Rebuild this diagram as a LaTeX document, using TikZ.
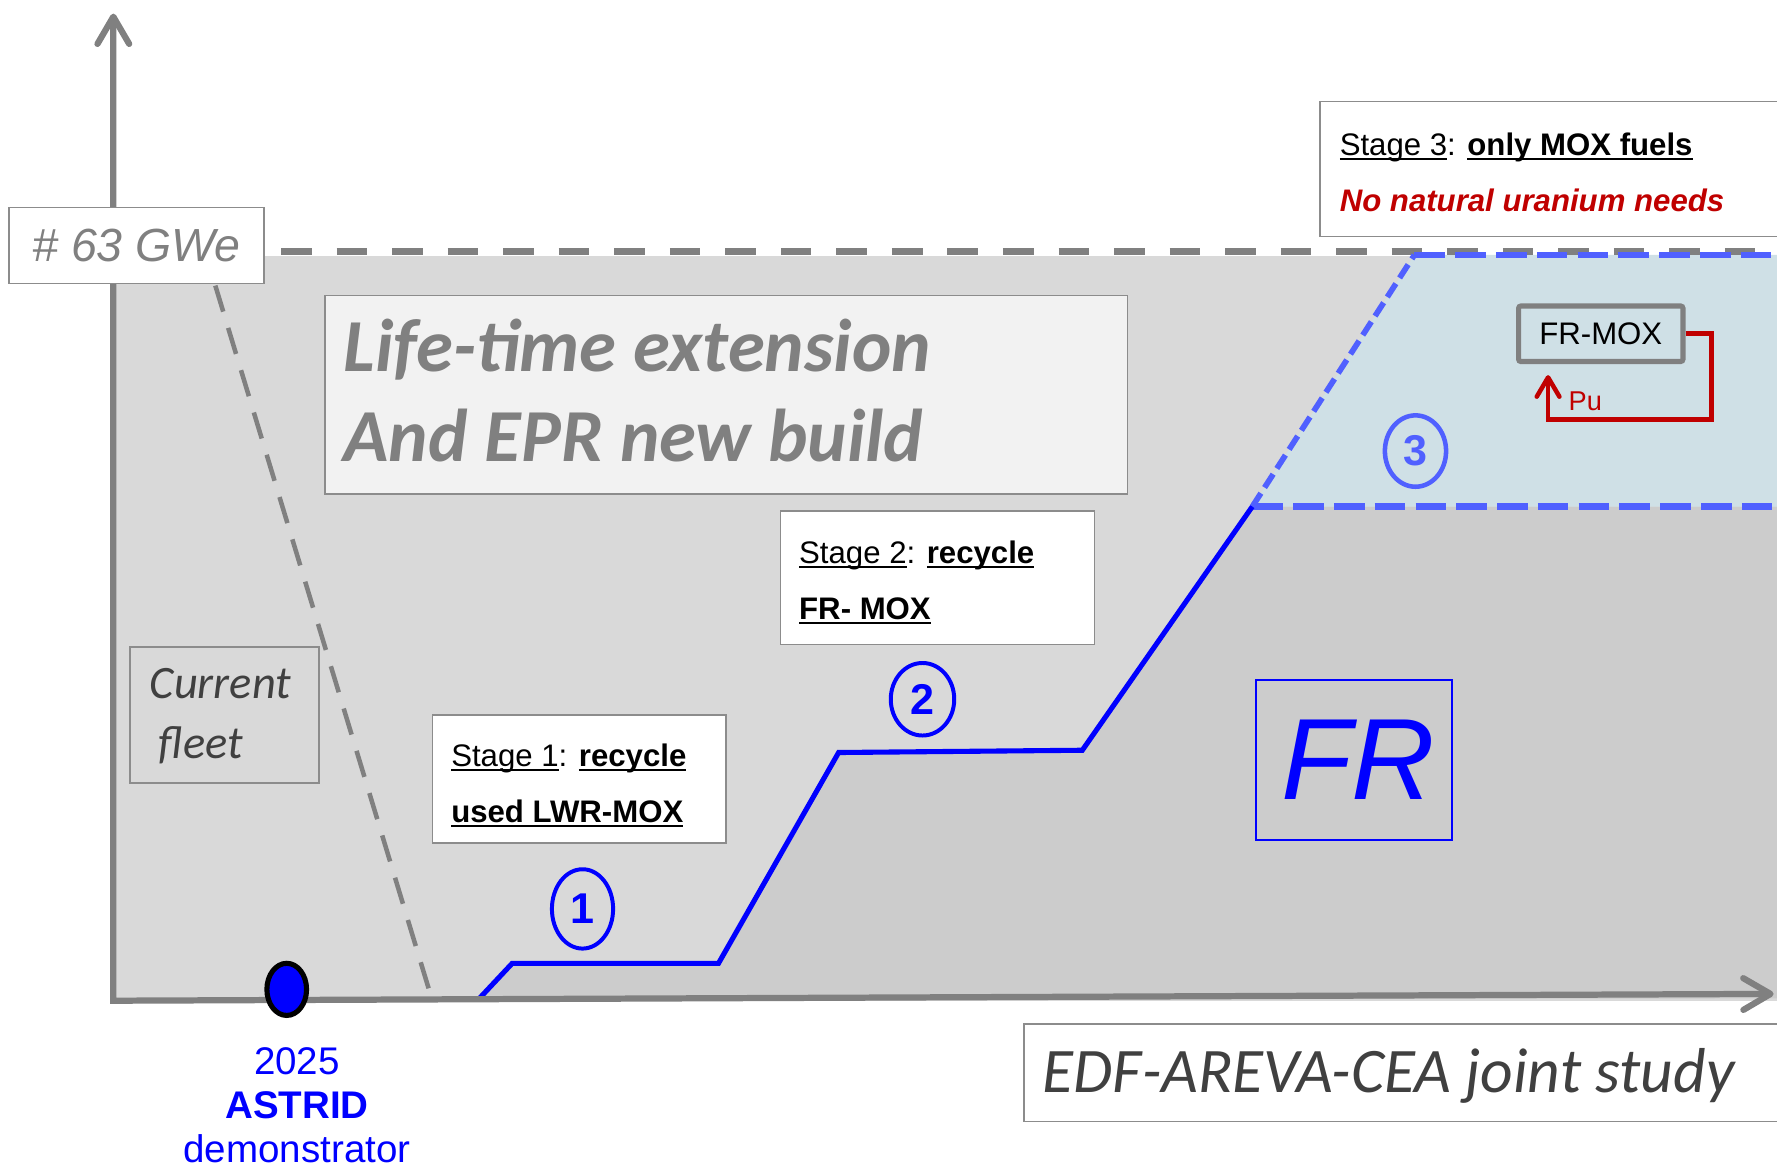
\documentclass[tikz,border=0pt]{standalone}
\usepackage{fontspec}
\setmainfont{Liberation Sans}
\newfontfamily\calfont{Carlito}
\usetikzlibrary{arrows.meta,shapes.geometric,positioning}

\definecolor{axisgray}{HTML}{808080}
\definecolor{edgegray}{HTML}{8C8C8C}
\definecolor{fleetgray}{HTML}{D9D9D9}
\definecolor{frgray}{HTML}{CCCCCC}
\definecolor{extgray}{HTML}{F2F2F2}
\definecolor{mixblue}{RGB}{207,224,230}
\definecolor{dashblue}{RGB}{80,96,255}
\definecolor{pured}{HTML}{C00000}
\definecolor{darktext}{HTML}{404040}

% underline sitting just under the baseline
\newcommand{\stageul}[1]{\leavevmode\setbox0=\hbox{#1}\rlap{\rule[-4pt]{\wd0}{1.8pt}}\box0\relax}

\tikzset{
  axistip/.tip={Straight Barb[round,length=24pt,width=28pt]},
  putip/.tip={Straight Barb[round,length=17pt,width=20pt]},
  infobox/.style={draw=edgegray,line width=1.4pt,fill=white,anchor=north west},
  linetext/.style={anchor=base west,text width=900pt,align=flush left},
  stagefont/.style={font=\fontsize{27.5}{50}\selectfont},
  stepnum/.style={ellipse,draw=blue,text=blue,line width=3.5pt,font=\fontsize{38}{38}\selectfont\bfseries},
}

\begin{document}
\begin{tikzpicture}[x=1pt,y=-1pt,inner sep=0pt]
\useasboundingbox (0,0) rectangle (1568,1031);
\clip (0,0) rectangle (1568,1031);

% axes corners and the build-up curve
\coordinate (ytip) at (100,12);
\coordinate (o) at (100,883);
\coordinate (xtip) at (1565,877);
\coordinate (s0) at (422,882);
\coordinate (s1) at (452,850);
\coordinate (s2) at (634,850);
\coordinate (s3) at (740,664);
\coordinate (s4) at (955,662);
\coordinate (s5) at (1105,447);
\coordinate (s6) at (1248,225);
\coordinate (r5) at (1568,447);
\coordinate (r6) at (1568,225);
\coordinate (r0) at (1568,881);

% areas
\fill[fleetgray] (100,226) rectangle (1568,883);
\fill[frgray] (s0) -- (s1) -- (s2) -- (s3) -- (s4) -- (s5) -- (r5) -- (r0) -- cycle;
\fill[mixblue] (s5) -- (s6) -- (r6) -- (r5) -- cycle;

% 63 GWe level and the fast reactor share
\draw[axisgray,line width=6pt,dash pattern=on 27pt off 22pt] (248,222) -- (1568,222);
\draw[dashblue,line width=5.5pt,dash pattern=on 27pt off 9pt] (s5) -- (r5);
\draw[dashblue,line width=5.5pt,dash pattern=on 27pt off 9pt] (s6) -- (r6);
\draw[dashblue,line width=5pt,dash pattern=on 14pt off 6pt] (s5) -- (s6);
\draw[blue,line width=4.5pt] (s0) -- (s1) -- (s2) -- (s3) -- (s4) -- (s5);
\draw[axisgray,line width=4pt,dash pattern=on 24pt off 15pt] (190,252) -- (380,878);
\draw[axisgray,line width=5.5pt,axistip-axistip] (ytip) -- (o) -- (xtip);

% boxes
\node[infobox,anchor=center,minimum width=225,minimum height=67,text=axisgray,
  font=\itshape\fontsize{41}{41}\selectfont] (gwe) at (120.5,216.5) {\# 63 GWe};

\node[infobox,fill=extgray,minimum width=708,minimum height=175] (extbox) at (286,260) {};
\node[linetext,text=axisgray,font=\calfont\bfseries\itshape\fontsize{66}{79}\selectfont]
  (exttext) at (303,328) {Life-time extension\\And EPR new build};

\node[infobox,fill=none,minimum width=167,minimum height=120] (fleetbox) at (114,570) {};
\node[linetext,text=darktext,font=\calfont\itshape\fontsize{41}{53}\selectfont]
  (fleettext) at (132,616) {Current\\\hspace*{8pt}fleet};

\node[infobox,minimum width=259,minimum height=113] (stage1box) at (381,630) {};
\node[linetext,stagefont] (stage1text) at (398,676)
  {\stageul{Stage 1}: \stageul{\bfseries recycle}\\\stageul{\bfseries used LWR-MOX}};

\node[infobox,minimum width=277,minimum height=118] (stage2box) at (688,450) {};
\node[linetext,stagefont] (stage2text) at (705,497)
  {\stageul{Stage 2}: \stageul{\bfseries recycle}\\\stageul{\bfseries FR- MOX}};

\node[infobox,minimum width=450,minimum height=119] (stage3box) at (1164,89) {};
\node[linetext,stagefont] (stage3text) at (1182,137)
  {\stageul{Stage 3}: \stageul{\bfseries only MOX fuels}\\{\color{pured}\bfseries\itshape No natural uranium needs}};

\node[infobox,minimum width=700,minimum height=86] (studybox) at (903,903) {};
\node[linetext,text=darktext,font=\calfont\itshape\fontsize{56}{56}\selectfont]
  (studytext) at (920,964) {EDF-AREVA-CEA joint study};

% stage marks
\node[stepnum,minimum width=54,minimum height=70] (n1) at (514,802) {1};
\node[stepnum,minimum width=56,minimum height=64] (n2) at (814,617) {2};
\node[stepnum,draw=dashblue,text=dashblue,line width=4pt,minimum width=54,minimum height=63] (n3) at (1249,398) {3};

\node[draw=blue,line width=1.5pt,minimum width=173,minimum height=141,text=blue,
  font=\itshape\fontsize{102}{102}\selectfont] (fr) at (1194.5,670.5) {\hspace*{8pt}FR};

% plutonium loop
\node[draw=axisgray,line width=4.5pt,rounded corners=2pt,minimum width=145,minimum height=49,stagefont]
  (frmox) at (1412.5,294.5) {FR-MOX};
\coordinate (puturn) at (1510,370);
\coordinate (pubase) at (1366,370);
\coordinate (puend) at (1366,331);
\draw[pured,line width=4pt,-putip] (frmox.east) -| (puturn) -- (pubase) -- (puend);
\node[anchor=base west,text=pured,font=\fontsize{24}{24}\selectfont] (pulabel) at (1384,362) {Pu};

% demonstrator
\node[ellipse,draw=black,fill=blue,line width=4.5pt,minimum width=35,minimum height=46] (astrid) at (253,873) {};
\node[below=26pt of astrid,xshift=9pt,align=center,text=blue,font=\fontsize{34}{39}\selectfont]
  (astridtext) {2025\\\textbf{ASTRID}\\demonstrator};
\end{tikzpicture}
\end{document}
